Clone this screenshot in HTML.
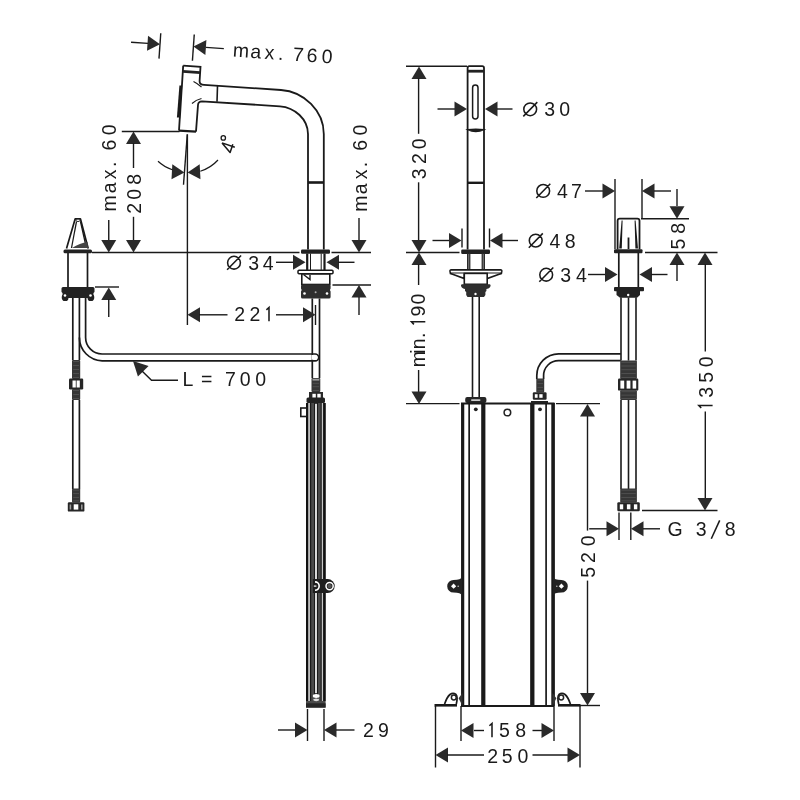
<!DOCTYPE html>
<html><head><meta charset="utf-8"><style>
html,body{margin:0;padding:0;background:#fff;}
svg{display:block;will-change:transform;}
text{font-family:"Liberation Sans",sans-serif;fill:#1a1a1a;}
</style></head><body>
<svg width="800" height="800" viewBox="0 0 800 800">
<rect width="800" height="800" fill="#fff"/>
<g transform="translate(160,44.2) rotate(4)">
<line x1="0" y1="-11" x2="0" y2="14.5" stroke="#1a1a1a" stroke-width="1.4"/>
<line x1="-29" y1="0" x2="-12" y2="0" stroke="#1a1a1a" stroke-width="1.4"/>
<path d="M0 0 L-12.5 7.5 L-12.5 -7.5 Z" fill="#2a2a2a"/>
<line x1="33.5" y1="-12" x2="33.5" y2="14.3" stroke="#1a1a1a" stroke-width="1.4"/>
<path d="M33.5 0 L46 -7.5 L46 7.5 Z" fill="#2a2a2a"/>
<line x1="46" y1="0" x2="64" y2="0" stroke="#1a1a1a" stroke-width="1.4"/>
<text x="73.11 90.77 104.98 118.62 133.4 147.01 162.24" y="7.2" font-size="19.5">max.760</text>
</g>
<path d="M183.2 65.6 L200.5 66.8 L199.6 81 Q199.5 84.6 204 84.9 L281 90 C304.05 91.6 323.8 110.9 323.8 134 L323.8 249.5" fill="none" stroke="#1a1a1a" stroke-width="1.8" />
<path d="M183.2 65.6 L179 130.6" fill="none" stroke="#1a1a1a" stroke-width="1.8" />
<path d="M179 130.6 L196 131.6" fill="none" stroke="#1a1a1a" stroke-width="2.4" />
<path d="M308 249.5 L308 134 C308 119.3 294.7 107.3 280 106.3 L202 101.3 Q198.2 101.3 198 105 L196 131.6" fill="none" stroke="#1a1a1a" stroke-width="1.8" />
<path d="M182.8 70 L200.2 71.2 L200 74 L182.6 72.8 Z" fill="#222"/>
<line x1="217.5" y1="86" x2="217" y2="101.8" stroke="#1a1a1a" stroke-width="1.6"/>
<path d="M193.5 81.5 Q197.5 83.5 201.5 87" fill="none" stroke="#1a1a1a" stroke-width="1.2" />
<path d="M192 103.5 Q196 99.8 201.5 98.5" fill="none" stroke="#1a1a1a" stroke-width="1.2" />
<line x1="180.8" y1="85.5" x2="178.3" y2="117.5" stroke="#1a1a1a" stroke-width="2.8"/>
<line x1="308" y1="182.5" x2="323.8" y2="182.5" stroke="#1a1a1a" stroke-width="2.6"/>
<rect x="301" y="249.5" width="29" height="4.3" rx="1.2" fill="#222" stroke="#1a1a1a" stroke-width="0"/>
<line x1="307.2" y1="253.5" x2="307.2" y2="270" stroke="#1a1a1a" stroke-width="2.2"/>
<line x1="324.5" y1="253.5" x2="324.5" y2="270" stroke="#1a1a1a" stroke-width="2.2"/>
<line x1="310.5" y1="253.5" x2="310.5" y2="270" stroke="#1a1a1a" stroke-width="1.0"/>
<line x1="321.2" y1="253.5" x2="321.2" y2="270" stroke="#1a1a1a" stroke-width="1.0"/>
<rect x="298" y="270.3" width="35" height="3.5" rx="1" fill="none" stroke="#1a1a1a" stroke-width="1.5"/>
<rect x="301.8" y="273.8" width="28" height="10.7" rx="0" fill="none" stroke="#1a1a1a" stroke-width="1.6"/>
<path d="M303.5 274.5 L310 279.5 L310 275" fill="none" stroke="#1a1a1a" stroke-width="1.4" />
<path d="M302.5 284.5 L329 284.5 Q330.6 284.5 330.6 286 L330.6 288.5 Q329.2 290 330.6 291.5 L330.6 297 Q330.6 298.6 329 298.6 L302.5 298.6 Q301 298.6 301 297 L301 291.5 Q302.4 290 301 288.5 L301 286 Q301 284.5 302.5 284.5 Z" fill="#2e2e2e" stroke="#1a1a1a" stroke-width="0" />
<circle cx="315.6" cy="292.2" r="1" fill="#aaa"/>
<circle cx="304.5" cy="293.5" r="1.3" fill="#fff"/><circle cx="327" cy="293.5" r="1.3" fill="#fff"/>
<line x1="312.3" y1="298.5" x2="312.3" y2="378" stroke="#1a1a1a" stroke-width="1.7"/>
<line x1="319.5" y1="298.5" x2="319.5" y2="378" stroke="#1a1a1a" stroke-width="1.7"/>
<rect x="311.5" y="378" width="8.8" height="14" rx="1" fill="#363636"/>
<rect x="312.7" y="379.25" width="6.4" height="0.7" fill="#5a5a5a"/>
<rect x="312.7" y="382.85" width="6.4" height="0.7" fill="#5a5a5a"/>
<rect x="312.7" y="386.45" width="6.4" height="0.7" fill="#5a5a5a"/>
<rect x="312.7" y="390.05" width="6.4" height="0.7" fill="#5a5a5a"/>
<rect x="312.5" y="378.8" width="6.8" height="1.8" fill="#999"/>
<rect x="309" y="392" width="14" height="7.5" rx="0" fill="#2a2a2a" stroke="#1a1a1a" stroke-width="0"/>
<rect x="312.4" y="393.8" width="3.4" height="4.4" fill="#fff"/><rect x="317.3" y="393.8" width="3.4" height="4.4" fill="#fff"/>
<rect x="306.5" y="397.5" width="18.5" height="5.5" rx="1.5" fill="#222" stroke="#1a1a1a" stroke-width="0"/>
<rect x="306" y="403" width="19.6" height="304.6" fill="#4a4a4a"/>
<rect x="306" y="403" width="2.2" height="298" fill="#111"/>
<rect x="308.2" y="403" width="1.8" height="298" fill="#bdbdbd"/>
<rect x="310" y="403" width="1.2" height="298" fill="#1a1a1a"/>
<rect x="314" y="403" width="1.2" height="298" fill="#1a1a1a"/>
<rect x="316.8" y="403" width="1.2" height="298" fill="#1a1a1a"/>
<rect x="320.6" y="403" width="1.2" height="298" fill="#1a1a1a"/>
<rect x="321.8" y="403" width="1.4" height="298" fill="#c8c8c8"/>
<rect x="323.2" y="403" width="2.4" height="298" fill="#111"/>
<rect x="306" y="703.3" width="19.6" height="4.3" fill="#262626"/>
<rect x="315.2" y="404" width="1.6" height="289" fill="#fff"/>
<ellipse cx="316.2" cy="696" rx="3.4" ry="1.9" fill="#fff"/>
<ellipse cx="316.2" cy="699.8" rx="3" ry="1.4" fill="#ddd"/>
<rect x="300.8" y="408" width="6" height="8.5" rx="0" fill="#fff" stroke="#1a1a1a" stroke-width="1.6"/>
<path d="M312.8 579.1 L327.7 579.1 A7 7 0 0 1 327.7 593.1 L312.8 593.1 Z" fill="#1e1e1e"/>
<circle cx="329.6" cy="586.1" r="3.6" fill="none" stroke="#fff" stroke-width="1.5"/>
<circle cx="329.6" cy="586.1" r="2.2" fill="#555"/>
<path d="M315 581.9 A4.2 4.2 0 0 1 315 590.3" fill="none" stroke="#fff" stroke-width="1.6"/>
<path d="M313.8 586.1 L316.4 586.1" fill="none" stroke="#fff" stroke-width="1.2"/>
<path d="M85.6 297.5 L85.6 337.5 A16.5 16.5 0 0 0 102.1 354 L315.2 354 A3.4 3.4 0 0 1 315.2 360.8 L102.1 360.8 A23.3 23.3 0 0 1 79.4 337.5" fill="none" stroke="#1a1a1a" stroke-width="1.7" />
<path d="M311.5 355 L315.2 355 A2.4 2.4 0 0 1 315.2 359.8 L311.5 359.8 Z" fill="#fff"/>
<path d="M66.5 248.5 L75.2 218.8 L80.4 218.8 L88.2 248.5" fill="none" stroke="#1a1a1a" stroke-width="1.7" stroke-linejoin="round"/>
<path d="M71.5 248 L76.5 221.5" fill="none" stroke="#1a1a1a" stroke-width="1.3" />
<path d="M80.5 221.5 L85.5 244" fill="none" stroke="#1a1a1a" stroke-width="1.3" />
<path d="M72 248 Q80 243 87.5 242 L88 248 Z" fill="#444"/>
<ellipse cx="78" cy="220.3" rx="2" ry="1.2" fill="#fff" stroke="#222" stroke-width="1"/>
<rect x="63.5" y="249.5" width="28.5" height="3.7" rx="1.5" fill="#222" stroke="#1a1a1a" stroke-width="0"/>
<line x1="68" y1="253" x2="68" y2="287" stroke="#1a1a1a" stroke-width="1.7"/>
<line x1="87.5" y1="253" x2="87.5" y2="287" stroke="#1a1a1a" stroke-width="1.7"/>
<path d="M63 287 L93 287 Q94.5 287 94.5 288.5 L94.5 292 Q92.5 293.5 94 295.5 Q95 299 92.5 301 L89 301 Q87.5 300 87.5 298 L68.5 298 Q68.5 300 67 301 L63.5 301 Q61 299 62 295.5 Q63.5 293.5 61.5 292 L61.5 288.5 Q61.5 287 63 287 Z" fill="#222" stroke="#1a1a1a" stroke-width="0" />
<circle cx="65" cy="295.5" r="1.3" fill="#fff"/><circle cx="90.5" cy="295.5" r="1.3" fill="#fff"/>
<line x1="72.8" y1="298" x2="72.8" y2="360" stroke="#1a1a1a" stroke-width="1.7"/>
<line x1="79.4" y1="298" x2="79.4" y2="360" stroke="#1a1a1a" stroke-width="1.7"/>
<rect x="72" y="360" width="8.2" height="19" rx="1" fill="#363636"/>
<rect x="73.2" y="361.25" width="5.8" height="0.7" fill="#5a5a5a"/>
<rect x="73.2" y="365.2" width="5.8" height="0.7" fill="#5a5a5a"/>
<rect x="73.2" y="369.15" width="5.8" height="0.7" fill="#5a5a5a"/>
<rect x="73.2" y="373.1" width="5.8" height="0.7" fill="#5a5a5a"/>
<rect x="73.2" y="377.05" width="5.8" height="0.7" fill="#5a5a5a"/>
<rect x="69" y="378.5" width="14.2" height="11" rx="1.2" fill="#262626"/>
<rect x="72.5" y="380.5" width="3.3" height="7" fill="#fff"/>
<rect x="76.6" y="380.5" width="3.2" height="7" fill="#fff"/>
<rect x="72" y="389" width="8.2" height="11" rx="1" fill="#363636"/>
<rect x="73.2" y="390.25" width="5.8" height="0.7" fill="#5a5a5a"/>
<rect x="73.2" y="394.15" width="5.8" height="0.7" fill="#5a5a5a"/>
<rect x="73.2" y="398.05" width="5.8" height="0.7" fill="#5a5a5a"/>
<line x1="72.8" y1="400" x2="72.8" y2="489" stroke="#1a1a1a" stroke-width="1.7"/>
<line x1="79.4" y1="400" x2="79.4" y2="489" stroke="#1a1a1a" stroke-width="1.7"/>
<rect x="72" y="488.5" width="8.2" height="14" rx="1" fill="#363636"/>
<rect x="73.2" y="489.75" width="5.8" height="0.7" fill="#5a5a5a"/>
<rect x="73.2" y="493.35" width="5.8" height="0.7" fill="#5a5a5a"/>
<rect x="73.2" y="496.95" width="5.8" height="0.7" fill="#5a5a5a"/>
<rect x="73.2" y="500.55" width="5.8" height="0.7" fill="#5a5a5a"/>
<rect x="67.8" y="502.3" width="16.6" height="9.3" rx="1.2" fill="#262626"/>
<rect x="73.7" y="504.3" width="4.6" height="5.3" fill="#fff"/>
<rect x="69.6" y="504.5" width="1.6" height="5" fill="#999"/><rect x="81" y="504.5" width="1.6" height="5" fill="#999"/>
<line x1="108.75" y1="220" x2="108.75" y2="240" stroke="#1a1a1a" stroke-width="1.4"/>
<path d="M108.75 252.5 L101.25 240 L116.25 240 Z" fill="#2a2a2a"/>
<text x="-211.49 -193.33 -179.22 -166.98 -150.49 -135.26" y="116.2" font-size="19.5" transform="rotate(-90)">max.60</text>
<path d="M133.5 131.5 L141 144 L126 144 Z" fill="#2a2a2a"/>
<line x1="133.5" y1="143" x2="133.5" y2="168" stroke="#1a1a1a" stroke-width="1.4"/>
<text x="-213.68 -199.76 -184.65" y="141.2" font-size="19.5" transform="rotate(-90)">208</text>
<line x1="133.5" y1="216.8" x2="133.5" y2="240" stroke="#1a1a1a" stroke-width="1.4"/>
<path d="M133.5 252.5 L126 240 L141 240 Z" fill="#2a2a2a"/>
<line x1="121.8" y1="131.5" x2="179.5" y2="131.5" stroke="#1a1a1a" stroke-width="1.4"/>
<line x1="92" y1="252.5" x2="299.5" y2="252.5" stroke="#1a1a1a" stroke-width="1.4"/>
<line x1="331.5" y1="252.5" x2="371" y2="252.5" stroke="#1a1a1a" stroke-width="1.4"/>
<line x1="95" y1="287" x2="119" y2="287" stroke="#1a1a1a" stroke-width="1.4"/>
<path d="M108.75 287.5 L116.25 300 L101.25 300 Z" fill="#2a2a2a"/>
<line x1="108.75" y1="299" x2="108.75" y2="317" stroke="#1a1a1a" stroke-width="1.4"/>
<line x1="359" y1="218" x2="359" y2="240" stroke="#1a1a1a" stroke-width="1.4"/>
<path d="M359 252.5 L351.5 240 L366.5 240 Z" fill="#2a2a2a"/>
<text x="-211.79 -194.33 -179.22 -167.28 -150.74 -135.51" y="367.2" font-size="19.5" transform="rotate(-90)">max.60</text>
<line x1="332.5" y1="285" x2="371" y2="285" stroke="#1a1a1a" stroke-width="1.4"/>
<path d="M359 285 L366.5 297.5 L351.5 297.5 Z" fill="#2a2a2a"/>
<line x1="359" y1="297" x2="359" y2="315" stroke="#1a1a1a" stroke-width="1.4"/>
<line x1="276" y1="262.3" x2="294" y2="262.3" stroke="#1a1a1a" stroke-width="1.4"/>
<path d="M305.5 262.3 L293 269.8 L293 254.8 Z" fill="#2a2a2a"/>
<path d="M326.5 262.3 L339 254.8 L339 269.8 Z" fill="#2a2a2a"/>
<line x1="338" y1="262.3" x2="354.5" y2="262.3" stroke="#1a1a1a" stroke-width="1.4"/>
<text x="248.16 262.85" y="269.6" font-size="19.5">34</text>
<path d="M227.6 262.7 A6.4 6.4 0 1 0 240.4 262.7 A6.4 6.4 0 1 0 227.6 262.7 M227.1 269.8 L241.1 255.5 " fill="none" stroke="#1a1a1a" stroke-width="1.55"/>
<line x1="187.4" y1="134.4" x2="187.4" y2="325" stroke="#1a1a1a" stroke-width="1.4"/>
<line x1="315.5" y1="305" x2="315.5" y2="325" stroke="#1a1a1a" stroke-width="1.4"/>
<path d="M187.5 314.8 L200 307.3 L200 322.3 Z" fill="#2a2a2a"/>
<line x1="199" y1="314.8" x2="227.5" y2="314.8" stroke="#1a1a1a" stroke-width="1.4"/>
<text x="234.32 249.62" y="321.3" font-size="19.5">22</text>
<path d="M269 321.3 L269 307.5 L266.4 309.9 " fill="none" stroke="#1a1a1a" stroke-width="1.55"/>
<line x1="276" y1="314.8" x2="304" y2="314.8" stroke="#1a1a1a" stroke-width="1.4"/>
<path d="M315.5 314.8 L303 322.3 L303 307.3 Z" fill="#2a2a2a"/>
<line x1="187.3" y1="134.4" x2="183.5" y2="184.8" stroke="#1a1a1a" stroke-width="1.4"/>
<path d="M184.4 172.5 L171.52 179.34 L172.31 164.36 Z" fill="#2a2a2a"/>
<path d="M187.6 172.5 L199.69 164.36 L200.48 179.34 Z" fill="#2a2a2a"/>
<path d="M158 161.3 A39.5 39.5 0 0 0 172.3 169.8" fill="none" stroke="#1a1a1a" stroke-width="1.2" />
<path d="M200.3 171.2 A39.5 39.5 0 0 0 218 160" fill="none" stroke="#1a1a1a" stroke-width="1.2" />
<path d="M222 142.9 L234.8 147.3 M222 142.9 L230.1 152.5 L232.85 144.3" fill="none" stroke="#1a1a1a" stroke-width="1.5" stroke-linejoin="round"/>
<circle cx="223.3" cy="137.9" r="2.2" fill="none" stroke="#1a1a1a" stroke-width="1.3"/>
<path d="M133 361 L148.56 365.95 L137.95 376.56 Z" fill="#2a2a2a"/>
<path d="M142 371 L151.5 380.3 L178 380.3" fill="none" stroke="#1a1a1a" stroke-width="1.4" />
<text x="182.4 201.05 225 239.74 255.24" y="386" font-size="19.5">L=700</text>
<line x1="307.5" y1="709" x2="307.5" y2="741" stroke="#1a1a1a" stroke-width="1.4"/>
<line x1="324" y1="709" x2="324" y2="741" stroke="#1a1a1a" stroke-width="1.4"/>
<line x1="278" y1="730" x2="295" y2="730" stroke="#1a1a1a" stroke-width="1.4"/>
<path d="M307.5 730 L295 737.5 L295 722.5 Z" fill="#2a2a2a"/>
<path d="M324 730 L336.5 722.5 L336.5 737.5 Z" fill="#2a2a2a"/>
<line x1="336" y1="730" x2="354.5" y2="730" stroke="#1a1a1a" stroke-width="1.4"/>
<text x="363.02 378.09" y="737.3" font-size="19.5">29</text>
<path d="M467.6 249.5 L467.6 68 Q467.6 66.2 469.4 66.2 L482.2 66.2 Q484 66.2 484 68 L484 249.5" fill="none" stroke="#1a1a1a" stroke-width="1.8" />
<rect x="467.6" y="69.8" width="16.4" height="2.8" fill="#222"/>
<rect x="472.6" y="85" width="5.4" height="34" rx="2.7" fill="none" stroke="#1a1a1a" stroke-width="1.5"/>
<path d="M467.6 129.6 Q475.8 128.6 484 129.6 Q475.8 133.4 467.6 129.6 Z" fill="#222" stroke="#1a1a1a" stroke-width="1.3" />
<line x1="467.6" y1="182.8" x2="484" y2="182.8" stroke="#1a1a1a" stroke-width="2.4"/>
<rect x="461.2" y="249.5" width="28.8" height="4.5" rx="1.2" fill="#222" stroke="#1a1a1a" stroke-width="0"/>
<rect x="467" y="253.5" width="3.4" height="16.2" fill="#2a2a2a"/><rect x="481.6" y="253.5" width="3.4" height="16.2" fill="#2a2a2a"/>
<rect x="468.3" y="254" width="0.9" height="15" fill="#888"/><rect x="482.8" y="254" width="0.9" height="15" fill="#888"/>
<path d="M451.2 269.9 L500.6 269.9 Q502 269.9 501.8 271.2 L501.4 273.4 L450.4 273.4 L450 271.2 Q449.8 269.9 451.2 269.9 Z" fill="#fff" stroke="#1a1a1a" stroke-width="1.6" />
<path d="M450.6 273.4 L464.3 278.6 L464.3 273.4 M501.2 273.4 L487.2 278.6 L487.2 273.4" fill="#fff" stroke="#1a1a1a" stroke-width="1.6" />
<rect x="464.3" y="273.4" width="22.9" height="10.9" rx="0" fill="#fff" stroke="#1a1a1a" stroke-width="1.6"/>
<path d="M462 284.2 L489.6 284.2 Q490.8 284.5 490.6 286 Q490 288 488.4 288.4 L486.4 289 L486.4 291 L485.4 292 L485.4 295 L484 297 L467.5 297 L466.2 295 L466.2 292 L465 291 L465 289 L463.2 288.4 Q461.6 288 461 286 Q460.8 284.5 462 284.2 Z" fill="#2e2e2e" stroke="#1a1a1a" stroke-width="0" />
<circle cx="475.5" cy="294" r="1.2" fill="#fff"/>
<line x1="472.5" y1="297" x2="472.5" y2="398" stroke="#1a1a1a" stroke-width="1.6"/>
<line x1="479.2" y1="297" x2="479.2" y2="398" stroke="#1a1a1a" stroke-width="1.6"/>
<rect x="465.2" y="397" width="21.2" height="6" rx="2" fill="#262626" stroke="#1a1a1a" stroke-width="0"/>
<rect x="471" y="399.2" width="9.5" height="1.8" rx="0.9" fill="#ccc"/>
<line x1="406" y1="403.6" x2="459.5" y2="403.6" stroke="#1a1a1a" stroke-width="1.4"/>
<line x1="556" y1="403.6" x2="600" y2="403.6" stroke="#1a1a1a" stroke-width="1.4"/>
<line x1="461" y1="403.6" x2="554.5" y2="403.6" stroke="#1a1a1a" stroke-width="2.0"/>
<line x1="462.65" y1="403" x2="462.65" y2="706" stroke="#1a1a1a" stroke-width="3.2"/>
<line x1="469.15" y1="403" x2="469.15" y2="706" stroke="#1a1a1a" stroke-width="1.7"/>
<line x1="483.3" y1="403" x2="483.3" y2="706" stroke="#1a1a1a" stroke-width="4.2"/>
<line x1="532.3" y1="403" x2="532.3" y2="706" stroke="#1a1a1a" stroke-width="4.3"/>
<line x1="546.1" y1="403" x2="546.1" y2="706" stroke="#1a1a1a" stroke-width="1.7"/>
<line x1="553.1" y1="403" x2="553.1" y2="706" stroke="#1a1a1a" stroke-width="3.6"/>
<circle cx="475.8" cy="409.3" r="1.9" fill="#222"/>
<circle cx="540" cy="409.3" r="1.9" fill="#222"/>
<circle cx="507.4" cy="412.5" r="3.3" fill="none" stroke="#222" stroke-width="1.5"/>
<path d="M462 577 Q461 580 453.5 580 A6.3 6.3 0 0 0 453.5 592.6 Q461 592.6 462 595.5 Z" fill="#222"/>
<path d="M453.6 583.6 L456.2 586.2 L453.6 588.8 L451 586.2 Z" fill="#fff"/>
<circle cx="458.2" cy="586.2" r="0.8" fill="#bbb"/>
<path d="M553 577 Q554 580 561.5 580 A6.3 6.3 0 0 1 561.5 592.6 Q554 592.6 553 595.5 Z" fill="#222"/>
<path d="M561.4 583.6 L564 586.2 L561.4 588.8 L558.8 586.2 Z" fill="#fff"/>
<circle cx="556.8" cy="586.2" r="0.8" fill="#bbb"/>
<path d="M444.6 704 Q447 697 450 694.5 Q453 692.2 456 694.5 Q458 696.5 456.3 704" fill="#fff" stroke="#1a1a1a" stroke-width="1.7" />
<circle cx="453.8" cy="697.5" r="2.4" fill="none" stroke="#222" stroke-width="1.5"/>
<path d="M462.5 693 L458.6 698.3 L462.5 706 Z" fill="#333"/>
<path d="M570.4 704 Q568 697 565 694.5 Q562 692.2 559 694.5 Q557 696.5 558.7 704" fill="#fff" stroke="#1a1a1a" stroke-width="1.7" />
<circle cx="561.2" cy="697.5" r="2.4" fill="none" stroke="#222" stroke-width="1.5"/>
<path d="M552.5 693 L556.4 698.3 L552.5 706 Z" fill="#333"/>
<line x1="434.5" y1="705.3" x2="457" y2="705.3" stroke="#1a1a1a" stroke-width="2.6"/>
<line x1="461" y1="706" x2="554" y2="706" stroke="#1a1a1a" stroke-width="2.2"/>
<line x1="558" y1="705.3" x2="580.5" y2="705.3" stroke="#1a1a1a" stroke-width="2.6"/>
<path d="M536.8 379 L536.8 375.6 A21.8 21.8 0 0 1 558.6 353.8 L620.8 353.8" fill="none" stroke="#1a1a1a" stroke-width="1.7" />
<path d="M543.6 379 L543.6 375.6 A15 15 0 0 1 558.6 360.6 L620.8 360.6" fill="none" stroke="#1a1a1a" stroke-width="1.7" />
<rect x="536.3" y="378.5" width="7.9" height="14" rx="1" fill="#363636"/>
<rect x="537.5" y="379.75" width="5.5" height="0.7" fill="#5a5a5a"/>
<rect x="537.5" y="383.35" width="5.5" height="0.7" fill="#5a5a5a"/>
<rect x="537.5" y="386.95" width="5.5" height="0.7" fill="#5a5a5a"/>
<rect x="537.5" y="390.55" width="5.5" height="0.7" fill="#5a5a5a"/>
<rect x="532.8" y="392.2" width="13.8" height="7.6" rx="1.2" fill="#262626"/>
<rect x="534.8" y="394.2" width="2.8" height="3.6" fill="#fff"/>
<rect x="539.3" y="394.2" width="3.3" height="3.6" fill="#fff"/>
<rect x="531" y="401" width="17" height="2.6" rx="0" fill="#222" stroke="#1a1a1a" stroke-width="0"/>
<line x1="406" y1="66.2" x2="467" y2="66.2" stroke="#1a1a1a" stroke-width="1.4"/>
<path d="M419 66.4 L426.5 78.9 L411.5 78.9 Z" fill="#2a2a2a"/>
<line x1="418.6" y1="78" x2="418.6" y2="133.8" stroke="#1a1a1a" stroke-width="1.4"/>
<text x="-179.14 -163.98 -149.36" y="426.2" font-size="19.5" transform="rotate(-90)">320</text>
<line x1="418.6" y1="182.3" x2="418.6" y2="241" stroke="#1a1a1a" stroke-width="1.4"/>
<path d="M419 252.5 L411.5 240 L426.5 240 Z" fill="#2a2a2a"/>
<path d="M419 252.5 L426.5 265 L411.5 265 Z" fill="#2a2a2a"/>
<line x1="418.6" y1="264" x2="418.6" y2="285" stroke="#1a1a1a" stroke-width="1.4"/>
<text x="-367.29 -353.8 -349.29 -338.03 -316.51 -304.51" y="425.3" font-size="19.5" transform="rotate(-90)">min.90</text>
<path d="M-321.8 425.3 L-321.8 411.5 L-324.4 413.9 " fill="none" stroke="#1a1a1a" stroke-width="1.55" transform="rotate(-90)"/>
<line x1="418.6" y1="370" x2="418.6" y2="392" stroke="#1a1a1a" stroke-width="1.4"/>
<path d="M419 404 L411.5 391.5 L426.5 391.5 Z" fill="#2a2a2a"/>
<line x1="406" y1="252.5" x2="459.5" y2="252.5" stroke="#1a1a1a" stroke-width="1.4"/>
<line x1="437.5" y1="109" x2="455" y2="109" stroke="#1a1a1a" stroke-width="1.4"/>
<path d="M467 109 L454.5 116.5 L454.5 101.5 Z" fill="#2a2a2a"/>
<path d="M485 109 L497.5 101.5 L497.5 116.5 Z" fill="#2a2a2a"/>
<line x1="497" y1="109" x2="512.5" y2="109" stroke="#1a1a1a" stroke-width="1.4"/>
<text x="544.26 559.24" y="116.2" font-size="19.5">30</text>
<path d="M523.8 109.3 A6.4 6.4 0 1 0 536.6 109.3 A6.4 6.4 0 1 0 523.8 109.3 M523.3 116.4 L537.3 102.1 " fill="none" stroke="#1a1a1a" stroke-width="1.55"/>
<line x1="462" y1="228.5" x2="462" y2="247.5" stroke="#1a1a1a" stroke-width="1.4"/>
<line x1="489.5" y1="228.5" x2="489.5" y2="247.5" stroke="#1a1a1a" stroke-width="1.4"/>
<line x1="432.5" y1="240.5" x2="450" y2="240.5" stroke="#1a1a1a" stroke-width="1.4"/>
<path d="M461.5 240.5 L449 248 L449 233 Z" fill="#2a2a2a"/>
<path d="M490 240.5 L502.5 233 L502.5 248 Z" fill="#2a2a2a"/>
<line x1="502" y1="240.5" x2="518" y2="240.5" stroke="#1a1a1a" stroke-width="1.4"/>
<text x="549.55 564.65" y="247.5" font-size="19.5">48</text>
<path d="M529.3 240.6 A6.4 6.4 0 1 0 542.1 240.6 A6.4 6.4 0 1 0 529.3 240.6 M528.8 247.7 L542.8 233.4 " fill="none" stroke="#1a1a1a" stroke-width="1.55"/>
<path d="M617.6 249.5 L617.6 220.8 Q617.6 218.6 619.8 218.6 L637.3 218.6 Q639.5 218.6 639.5 220.8 L639.5 249.5" fill="none" stroke="#1a1a1a" stroke-width="1.8" />
<path d="M621.6 220.5 L622.6 220.5 L621.8 248.5 L619.2 248.5 Z M635.6 220.5 L634.6 220.5 L635.4 248.5 L638 248.5 Z" fill="#1a1a1a"/>
<line x1="628.5" y1="237.5" x2="628.5" y2="249" stroke="#1a1a1a" stroke-width="1.8"/>
<rect x="614" y="249.2" width="28.5" height="4" rx="1" fill="#222" stroke="#1a1a1a" stroke-width="0"/>
<line x1="618.8" y1="253" x2="618.8" y2="287.5" stroke="#1a1a1a" stroke-width="1.7"/>
<line x1="638.3" y1="253" x2="638.3" y2="287.5" stroke="#1a1a1a" stroke-width="1.7"/>
<rect x="614" y="287" width="30" height="4.2" rx="1" fill="#222" stroke="#1a1a1a" stroke-width="0"/>
<path d="M616.5 291 L640 291 L640 295 L637 297.8 L620 297.8 L616.5 295 Z" fill="#222" stroke="#1a1a1a" stroke-width="0" />
<circle cx="628.2" cy="295" r="1.2" fill="#fff"/>
<line x1="621" y1="297.5" x2="621" y2="360.6" stroke="#1a1a1a" stroke-width="1.6"/>
<line x1="628.5" y1="297.5" x2="628.5" y2="360.6" stroke="#1a1a1a" stroke-width="1.6"/>
<line x1="636" y1="297.5" x2="636" y2="360.6" stroke="#1a1a1a" stroke-width="1.6"/>
<rect x="620.2" y="360.6" width="16.7" height="18.4" rx="1" fill="#363636"/>
<rect x="621.4" y="361.85" width="14.3" height="0.7" fill="#5a5a5a"/>
<rect x="621.4" y="365.65" width="14.3" height="0.7" fill="#5a5a5a"/>
<rect x="621.4" y="369.45" width="14.3" height="0.7" fill="#5a5a5a"/>
<rect x="621.4" y="373.25" width="14.3" height="0.7" fill="#5a5a5a"/>
<rect x="621.4" y="377.05" width="14.3" height="0.7" fill="#5a5a5a"/>
<rect x="618" y="378.6" width="20.3" height="12" rx="1.2" fill="#262626"/>
<rect x="620.4" y="380.6" width="3.8" height="8" fill="#fff"/>
<rect x="626.6" y="380.6" width="3.8" height="8" fill="#fff"/>
<rect x="632.6" y="380.6" width="3.6" height="8" fill="#fff"/>
<rect x="620.2" y="390.2" width="16.7" height="9.8" rx="1" fill="#363636"/>
<rect x="621.4" y="391.45" width="14.3" height="0.7" fill="#5a5a5a"/>
<rect x="621.4" y="394.75" width="14.3" height="0.7" fill="#5a5a5a"/>
<rect x="621.4" y="398.05" width="14.3" height="0.7" fill="#5a5a5a"/>
<line x1="621" y1="400" x2="621" y2="489" stroke="#1a1a1a" stroke-width="1.6"/>
<line x1="628.5" y1="400" x2="628.5" y2="489" stroke="#1a1a1a" stroke-width="1.6"/>
<line x1="636" y1="400" x2="636" y2="489" stroke="#1a1a1a" stroke-width="1.6"/>
<rect x="620.2" y="488.5" width="16.7" height="14" rx="1" fill="#363636"/>
<rect x="621.4" y="489.75" width="14.3" height="0.7" fill="#5a5a5a"/>
<rect x="621.4" y="493.35" width="14.3" height="0.7" fill="#5a5a5a"/>
<rect x="621.4" y="496.95" width="14.3" height="0.7" fill="#5a5a5a"/>
<rect x="621.4" y="500.55" width="14.3" height="0.7" fill="#5a5a5a"/>
<rect x="617.3" y="502.3" width="22.5" height="9" rx="1.2" fill="#262626"/>
<rect x="619.8" y="504.3" width="3.4" height="5" fill="#fff"/>
<rect x="626.9" y="504.3" width="3.5" height="5" fill="#fff"/>
<rect x="633.9" y="504.3" width="3.4" height="5" fill="#fff"/>
<line x1="615" y1="179" x2="615" y2="249" stroke="#1a1a1a" stroke-width="1.4"/>
<line x1="642" y1="179" x2="642" y2="218.6" stroke="#1a1a1a" stroke-width="1.4"/>
<line x1="585" y1="191" x2="603" y2="191" stroke="#1a1a1a" stroke-width="1.4"/>
<path d="M615 191 L602.5 198.5 L602.5 183.5 Z" fill="#2a2a2a"/>
<path d="M642 191 L654.5 183.5 L654.5 198.5 Z" fill="#2a2a2a"/>
<line x1="654" y1="191" x2="671" y2="191" stroke="#1a1a1a" stroke-width="1.4"/>
<text x="557.05 571" y="197.8" font-size="19.5">47</text>
<path d="M536.8 190.9 A6.4 6.4 0 1 0 549.6 190.9 A6.4 6.4 0 1 0 536.8 190.9 M536.3 198 L550.3 183.7 " fill="none" stroke="#1a1a1a" stroke-width="1.55"/>
<line x1="677" y1="189" x2="677" y2="206" stroke="#1a1a1a" stroke-width="1.4"/>
<path d="M677 218.7 L669.5 206.2 L684.5 206.2 Z" fill="#2a2a2a"/>
<line x1="641" y1="218.7" x2="689" y2="218.7" stroke="#1a1a1a" stroke-width="1.4"/>
<text x="-249.58 -233.85" y="684.8" font-size="19.5" transform="rotate(-90)">58</text>
<path d="M677 252.5 L684.5 265 L669.5 265 Z" fill="#2a2a2a"/>
<line x1="677" y1="264" x2="677" y2="281" stroke="#1a1a1a" stroke-width="1.4"/>
<line x1="645" y1="252.5" x2="717.5" y2="252.5" stroke="#1a1a1a" stroke-width="1.4"/>
<path d="M705 252.5 L712.5 265 L697.5 265 Z" fill="#2a2a2a"/>
<line x1="705.3" y1="264" x2="705.3" y2="351.5" stroke="#1a1a1a" stroke-width="1.4"/>
<text x="-397.74 -382.78 -367.26" y="712.6" font-size="19.5" transform="rotate(-90)">350</text>
<path d="M-405.4 712.6 L-405.4 698.8 L-408 701.2 " fill="none" stroke="#1a1a1a" stroke-width="1.55" transform="rotate(-90)"/>
<line x1="705.3" y1="411.5" x2="705.3" y2="498" stroke="#1a1a1a" stroke-width="1.4"/>
<path d="M705 510.5 L697.5 498 L712.5 498 Z" fill="#2a2a2a"/>
<line x1="642" y1="510.5" x2="717.5" y2="510.5" stroke="#1a1a1a" stroke-width="1.4"/>
<line x1="588" y1="274.5" x2="606" y2="274.5" stroke="#1a1a1a" stroke-width="1.4"/>
<path d="M617.5 274.5 L605 282 L605 267 Z" fill="#2a2a2a"/>
<path d="M639.5 274.5 L652 267 L652 282 Z" fill="#2a2a2a"/>
<line x1="651" y1="274.5" x2="667.5" y2="274.5" stroke="#1a1a1a" stroke-width="1.4"/>
<text x="560.26 576.05" y="281.6" font-size="19.5">34</text>
<path d="M539.8 274.7 A6.4 6.4 0 1 0 552.6 274.7 A6.4 6.4 0 1 0 539.8 274.7 M539.3 281.8 L553.3 267.5 " fill="none" stroke="#1a1a1a" stroke-width="1.55"/>
<line x1="619" y1="512.5" x2="619" y2="540" stroke="#1a1a1a" stroke-width="1.4"/>
<line x1="630.8" y1="512.5" x2="630.8" y2="540" stroke="#1a1a1a" stroke-width="1.4"/>
<line x1="589.2" y1="528.8" x2="607" y2="528.8" stroke="#1a1a1a" stroke-width="1.4"/>
<path d="M619 528.8 L606.5 536.3 L606.5 521.3 Z" fill="#2a2a2a"/>
<path d="M631 528.8 L643.5 521.3 L643.5 536.3 Z" fill="#2a2a2a"/>
<line x1="643" y1="528.8" x2="660" y2="528.8" stroke="#1a1a1a" stroke-width="1.4"/>
<text x="667.52 695.76 724.65" y="536" font-size="19.5">G38</text>
<path d="M711.3 538.8 L719.7 520.4 " fill="none" stroke="#1a1a1a" stroke-width="1.55"/>
<path d="M587.5 404 L595 416.5 L580 416.5 Z" fill="#2a2a2a"/>
<line x1="587.5" y1="416" x2="587.5" y2="530.6" stroke="#1a1a1a" stroke-width="1.4"/>
<text x="-577.78 -562.98 -546.36" y="595" font-size="19.5" transform="rotate(-90)">520</text>
<line x1="587.5" y1="580.6" x2="587.5" y2="694" stroke="#1a1a1a" stroke-width="1.4"/>
<path d="M587.5 705.5 L580 693 L595 693 Z" fill="#2a2a2a"/>
<line x1="580" y1="705.5" x2="600" y2="705.5" stroke="#1a1a1a" stroke-width="1.4"/>
<line x1="461" y1="706" x2="461" y2="741" stroke="#1a1a1a" stroke-width="1.4"/>
<line x1="554" y1="706" x2="554" y2="741" stroke="#1a1a1a" stroke-width="1.4"/>
<path d="M461 730.5 L473.5 723 L473.5 738 Z" fill="#2a2a2a"/>
<line x1="474" y1="730.5" x2="484" y2="730.5" stroke="#1a1a1a" stroke-width="1.4"/>
<text x="499.12 515.15" y="737.2" font-size="19.5">58</text>
<path d="M492 737.2 L492 723.4 L489.4 725.8 " fill="none" stroke="#1a1a1a" stroke-width="1.55"/>
<line x1="532.5" y1="730.5" x2="542" y2="730.5" stroke="#1a1a1a" stroke-width="1.4"/>
<path d="M554 730.5 L541.5 738 L541.5 723 Z" fill="#2a2a2a"/>
<line x1="435.5" y1="706" x2="435.5" y2="767.5" stroke="#1a1a1a" stroke-width="1.4"/>
<line x1="580" y1="706" x2="580" y2="767.5" stroke="#1a1a1a" stroke-width="1.4"/>
<path d="M435.5 755 L448 747.5 L448 762.5 Z" fill="#2a2a2a"/>
<line x1="447" y1="755" x2="484" y2="755" stroke="#1a1a1a" stroke-width="1.4"/>
<text x="487.32 501.72 517.54" y="762.6" font-size="19.5">250</text>
<line x1="532.5" y1="755" x2="568.5" y2="755" stroke="#1a1a1a" stroke-width="1.4"/>
<path d="M580 755 L567.5 762.5 L567.5 747.5 Z" fill="#2a2a2a"/>
</svg>
</body></html>
